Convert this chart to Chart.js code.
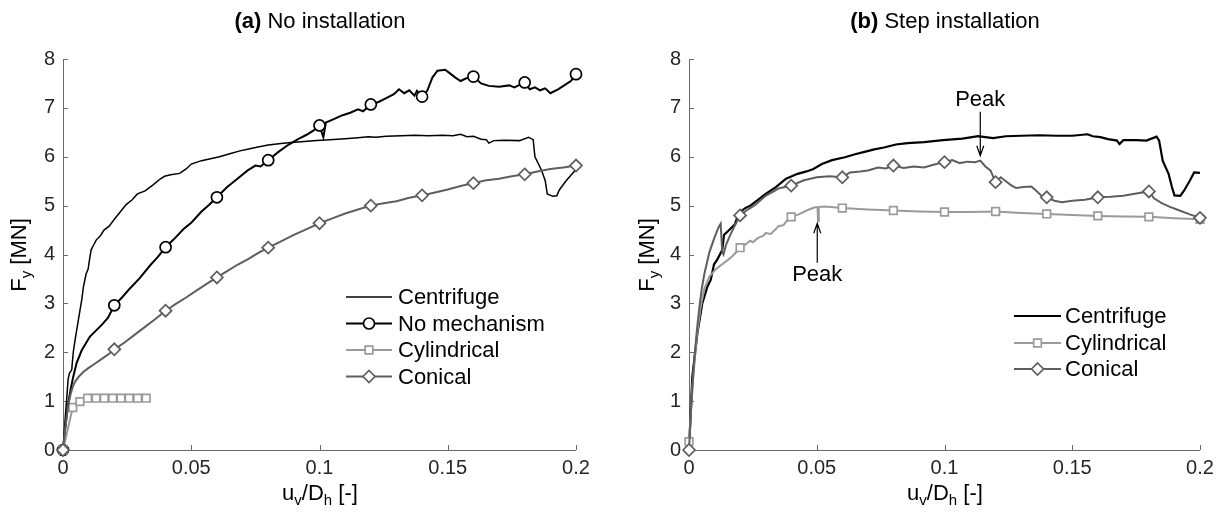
<!DOCTYPE html>
<html>
<head>
<meta charset="utf-8">
<script src="https://cdn.jsdelivr.net/npm/chart.js@4.4.0/dist/chart.umd.min.js"></script>
<style>
  body { margin: 0; background: #fff; width: 1225px; height: 516px; overflow: hidden;
         font-family: "Liberation Sans", Arial, sans-serif; color: #000; position: relative; }
  canvas { position: absolute; top: 0; }
  .title { position: absolute; top: 10px; width: 400px; text-align: center; font-size: 22px; line-height: 22px; white-space: nowrap; }
  .xlab { position: absolute; top: 481px; width: 200px; text-align: center; font-size: 22px; line-height: 24px; white-space: nowrap; }
  .ylab { position: absolute; top: 243px; width: 200px; height: 24px; text-align: center; font-size: 22px; line-height: 24px;
          transform: rotate(-90deg); white-space: nowrap; }
  sub { font-size: 15px; vertical-align: -5px; line-height: 0; }
</style>
</head>
<body>
<canvas id="chartA" width="612" height="516" style="left:0"></canvas>
<canvas id="chartB" width="613" height="516" style="left:612px"></canvas>

<div class="title" style="left:120px"><b>(a)</b> No installation</div>
<div class="title" style="left:745px"><b>(b)</b> Step installation</div>
<div class="xlab" style="left:220px">u<sub>v</sub>/D<sub>h</sub> [-]</div>
<div class="xlab" style="left:845px">u<sub>v</sub>/D<sub>h</sub> [-]</div>
<div class="ylab" style="left:-81px">F<sub>y</sub> [MN]</div>
<div class="ylab" style="left:547px">F<sub>y</sub> [MN]</div>

<script>
// tick values / labels
const xTickValues = [0, 0.05, 0.1, 0.15, 0.2];
const xTickLabels = ['0', '0.05', '0.1', '0.15', '0.2'];
const yTickValues = [0, 1, 2, 3, 4, 5, 6, 7, 8];

// x positions that carry a marker
const markX = [0, 0.02, 0.04, 0.06, 0.08, 0.1, 0.12, 0.14, 0.16, 0.18, 0.2];
const aCylMarkX = [0, 0.0038, 0.0066, 0.0096, 0.0129, 0.0161, 0.0194, 0.0226, 0.0258, 0.0291, 0.0324];

// (a) No installation
const aCentrifuge = [[0,0],[0.0008,0.6],[0.0014,1.02],[0.002,1.45],[0.0025,1.57],[0.0034,1.64],[0.004,2.0],[0.0047,2.25],
  [0.006,2.66],[0.0073,3.07],[0.008,3.35],[0.009,3.6],[0.0098,3.7],[0.0105,3.95],[0.011,4.1],[0.012,4.2],[0.013,4.3],
  [0.0145,4.38],[0.016,4.5],[0.018,4.58],[0.02,4.72],[0.022,4.85],[0.0246,5.02],[0.027,5.12],[0.029,5.24],[0.032,5.3],
  [0.035,5.42],[0.038,5.55],[0.0396,5.6],[0.042,5.63],[0.0455,5.66],[0.048,5.75],[0.05,5.85],[0.054,5.92],[0.0575,5.96],
  [0.061,6.0],[0.065,6.06],[0.069,6.12],[0.0724,6.16],[0.076,6.2],[0.08,6.24],[0.085,6.27],[0.089,6.29],[0.094,6.31],
  [0.099,6.33],[0.104,6.35],[0.11,6.37],[0.115,6.39],[0.119,6.41],[0.122,6.4],[0.126,6.42],[0.132,6.43],[0.137,6.44],
  [0.1425,6.43],[0.148,6.44],[0.152,6.43],[0.155,6.46],[0.1575,6.41],[0.16,6.42],[0.163,6.36],[0.165,6.35],[0.166,6.28],
  [0.168,6.33],[0.172,6.34],[0.178,6.33],[0.1815,6.4],[0.1833,6.35],[0.184,6.0],[0.1866,5.72],[0.188,5.51],[0.1888,5.24],
  [0.191,5.19],[0.1925,5.2],[0.1935,5.32],[0.196,5.5],[0.198,5.62],[0.2,5.74]];
const aNoMech = [[0,0],[0.001,0.5],[0.002,0.95],[0.003,1.25],[0.004,1.5],[0.0053,1.78],[0.0073,2.04],[0.0105,2.32],
  [0.0151,2.56],[0.0175,2.7],[0.02,2.96],[0.023,3.12],[0.026,3.3],[0.03,3.52],[0.034,3.78],[0.037,3.95],[0.04,4.15],
  [0.043,4.3],[0.047,4.52],[0.05,4.65],[0.054,4.88],[0.057,5.02],[0.06,5.17],[0.064,5.38],[0.068,5.55],[0.072,5.72],
  [0.075,5.82],[0.077,5.8],[0.08,5.93],[0.084,6.1],[0.088,6.25],[0.092,6.37],[0.095,6.45],[0.098,6.55],[0.1,6.64],
  [0.1015,6.4],[0.1025,6.7],[0.106,6.78],[0.109,6.85],[0.112,6.9],[0.115,6.97],[0.117,6.93],[0.12,7.07],[0.123,7.12],
  [0.126,7.2],[0.129,7.28],[0.131,7.38],[0.133,7.3],[0.135,7.36],[0.137,7.25],[0.138,7.35],[0.14,7.23],[0.142,7.35],
  [0.144,7.62],[0.146,7.76],[0.149,7.78],[0.151,7.7],[0.153,7.62],[0.155,7.55],[0.157,7.6],[0.16,7.64],[0.163,7.5],
  [0.166,7.45],[0.17,7.43],[0.174,7.46],[0.176,7.42],[0.178,7.47],[0.18,7.52],[0.182,7.38],[0.184,7.42],[0.186,7.36],
  [0.188,7.4],[0.19,7.3],[0.193,7.38],[0.196,7.48],[0.198,7.55],[0.2,7.69]];
const aCylindrical = [[0,0],[0.0038,0.87],[0.0066,0.99],[0.0096,1.06],[0.0129,1.06],[0.0161,1.06],[0.0194,1.06],
  [0.0226,1.06],[0.0258,1.06],[0.0291,1.06],[0.0324,1.06]];
const aConical = [[0,0],[0.001,0.5],[0.002,0.9],[0.003,1.15],[0.004,1.32],[0.005,1.42],[0.0065,1.52],[0.008,1.6],
  [0.01,1.68],[0.012,1.75],[0.015,1.86],[0.018,1.97],[0.02,2.06],[0.024,2.2],[0.028,2.36],[0.032,2.52],[0.036,2.68],
  [0.04,2.85],[0.044,2.99],[0.048,3.12],[0.052,3.26],[0.056,3.4],[0.06,3.53],[0.064,3.66],[0.068,3.79],[0.072,3.9],
  [0.076,4.03],[0.08,4.14],[0.085,4.27],[0.09,4.4],[0.095,4.52],[0.1,4.64],[0.105,4.74],[0.11,4.84],[0.115,4.92],
  [0.12,5.0],[0.125,5.05],[0.13,5.09],[0.135,5.16],[0.14,5.21],[0.145,5.27],[0.15,5.33],[0.155,5.4],[0.16,5.46],
  [0.165,5.52],[0.17,5.55],[0.175,5.6],[0.18,5.64],[0.185,5.7],[0.19,5.75],[0.195,5.78],[0.2,5.82]];

// (b) Step installation
const bCentrifuge = [[0,0],[0.0013,1.5],[0.0033,2.39],[0.0052,3.0],[0.0072,3.34],[0.0085,3.48],[0.0098,3.8],[0.011,3.89],
  [0.013,4.09],[0.0137,4.4],[0.0157,4.5],[0.018,4.62],[0.0195,4.85],[0.022,4.95],[0.024,5.0],[0.027,5.12],[0.03,5.24],
  [0.034,5.38],[0.038,5.55],[0.0425,5.65],[0.046,5.7],[0.0487,5.75],[0.052,5.85],[0.056,5.93],[0.061,5.99],[0.065,6.05],
  [0.0687,6.1],[0.0725,6.15],[0.0763,6.19],[0.081,6.25],[0.0856,6.28],[0.092,6.3],[0.0994,6.34],[0.107,6.37],[0.1132,6.42],
  [0.116,6.4],[0.119,6.38],[0.124,6.42],[0.13,6.43],[0.137,6.44],[0.144,6.43],[0.15,6.43],[0.156,6.46],[0.158,6.42],
  [0.161,6.4],[0.164,6.36],[0.1675,6.33],[0.1685,6.26],[0.17,6.34],[0.175,6.34],[0.179,6.33],[0.183,6.41],[0.184,6.33],
  [0.1854,5.92],[0.1877,5.65],[0.189,5.38],[0.19,5.21],[0.1923,5.2],[0.1938,5.31],[0.196,5.51],[0.1977,5.68],[0.2,5.67]];
const bCylindrical = [[0,0.17],[0.0015,1.4],[0.003,2.3],[0.0045,2.9],[0.006,3.3],[0.008,3.55],[0.0105,3.7],[0.013,3.8],
  [0.016,3.92],[0.018,4.02],[0.02,4.14],[0.022,4.2],[0.024,4.28],[0.025,4.25],[0.027,4.34],[0.029,4.38],[0.03,4.44],
  [0.032,4.42],[0.034,4.52],[0.035,4.58],[0.037,4.6],[0.038,4.67],[0.04,4.77],[0.043,4.82],[0.046,4.9],[0.049,4.96],
  [0.0503,4.97],[0.0505,4.68],[0.0508,4.97],[0.053,4.98],[0.06,4.95],[0.07,4.92],[0.08,4.9],[0.09,4.88],[0.1,4.87],
  [0.11,4.87],[0.12,4.88],[0.13,4.85],[0.14,4.83],[0.15,4.81],[0.16,4.79],[0.17,4.78],[0.18,4.77],[0.19,4.74],[0.2,4.72]];
const bConical = [[0,0],[0.001,1.0],[0.002,1.8],[0.003,2.4],[0.004,2.9],[0.005,3.3],[0.006,3.6],[0.008,4.05],[0.01,4.35],
  [0.0115,4.55],[0.0124,4.63],[0.013,4.05],[0.0135,4.0],[0.0145,4.2],[0.016,4.38],[0.018,4.6],[0.02,4.8],[0.023,4.92],
  [0.026,5.02],[0.03,5.2],[0.035,5.35],[0.04,5.41],[0.045,5.52],[0.05,5.58],[0.055,5.6],[0.06,5.58],[0.063,5.68],
  [0.067,5.7],[0.07,5.72],[0.074,5.78],[0.077,5.76],[0.08,5.82],[0.084,5.77],[0.088,5.8],[0.092,5.78],[0.096,5.84],
  [0.1,5.89],[0.103,5.93],[0.106,5.87],[0.109,5.9],[0.112,5.89],[0.114,5.92],[0.116,5.8],[0.118,5.72],[0.12,5.48],
  [0.122,5.58],[0.124,5.5],[0.126,5.42],[0.128,5.36],[0.131,5.38],[0.134,5.39],[0.136,5.3],[0.138,5.2],[0.14,5.17],
  [0.143,5.1],[0.146,5.07],[0.15,5.1],[0.155,5.12],[0.16,5.17],[0.165,5.18],[0.17,5.2],[0.175,5.25],[0.18,5.29],
  [0.182,5.15],[0.185,5.05],[0.188,4.98],[0.192,4.9],[0.196,4.82],[0.2,4.75]];

const BLACK = '#000000';
const LIGHT = '#9a9a9a';
const DARK = '#5e5e5e';
const AXIS = '#6a6a6a';
const TICKTXT = '#262626';
const FONT = '"Liberation Sans", Arial, sans-serif';

function series(label, pts, marks, color, width, style, radius, order) {
  return {
    label: label,
    data: pts.map(p => ({ x: p[0], y: p[1] })),
    borderColor: color,
    borderWidth: width,
    backgroundColor: '#fff',
    pointStyle: style || 'circle',
    pointBorderColor: color,
    pointBackgroundColor: '#fff',
    pointBorderWidth: 1.7,
    pointRadius: c => {
      const r = c.raw;
      if (!r || !style) return 0;
      return marks.some(m => Math.abs(m - r.x) < 1e-9) ? radius : 0;
    },
    pointHoverRadius: 0,
    tension: 0,
    fill: false,
    clip: false,
    order: order,
    // for the legend
    mStyle: style,
    mRadius: radius
  };
}

// axis lines and inward ticks (matlab look)
const axesPlugin = {
  id: 'axesLook',
  beforeDatasetsDraw(chart) {
    const { ctx, chartArea: a, scales: { x, y } } = chart;
    ctx.save();
    ctx.strokeStyle = AXIS;
    ctx.lineWidth = 1;
    ctx.beginPath();
    ctx.moveTo(a.left + 0.5, a.top);
    ctx.lineTo(a.left + 0.5, a.bottom + 0.5);
    ctx.lineTo(a.right, a.bottom + 0.5);
    xTickValues.forEach(v => {
      const px = Math.round(x.getPixelForValue(v)) + 0.5;
      ctx.moveTo(px, a.bottom);
      ctx.lineTo(px, a.bottom - 5);
    });
    yTickValues.forEach(v => {
      const py = Math.round(y.getPixelForValue(v)) + 0.5;
      ctx.moveTo(a.left, py);
      ctx.lineTo(a.left + 5, py);
    });
    ctx.stroke();
    ctx.restore();
  }
};

function legendPlugin(x0, x1, tx, ys) {
  return {
    id: 'lineLegend',
    afterDraw(chart) {
      const ctx = chart.ctx;
      ctx.save();
      chart.data.datasets.forEach((ds, i) => {
        const y = ys[i];
        ctx.strokeStyle = ds.borderColor;
        ctx.lineWidth = ds.borderWidth;
        ctx.beginPath();
        ctx.moveTo(x0, y);
        ctx.lineTo(x1, y);
        ctx.stroke();
        if (ds.mStyle) {
          ctx.fillStyle = '#fff';
          ctx.lineWidth = 1.7;
          Chart.helpers.drawPoint(ctx, { pointStyle: ds.mStyle, radius: ds.mRadius, rotation: 0, borderWidth: 1.7 }, (x0 + x1) / 2, y);
        }
        ctx.fillStyle = '#000';
        ctx.font = '22px ' + FONT;
        ctx.textBaseline = 'middle';
        ctx.textAlign = 'left';
        ctx.fillText(ds.label, tx, y + 1);
      });
      ctx.restore();
    }
  };
}

// "Peak" arrows on panel (b)
const peakPlugin = {
  id: 'peaks',
  afterDraw(chart) {
    const { ctx, scales: { x, y } } = chart;
    const notes = [
      { x: 0.114, text: 7.16, from: 6.92, to: 6.02 },
      { x: 0.0502, text: 3.58, from: 3.83, to: 4.64 }
    ];
    ctx.save();
    ctx.strokeStyle = '#000';
    ctx.fillStyle = '#000';
    ctx.lineWidth = 1.2;
    ctx.font = '22px ' + FONT;
    ctx.textAlign = 'center';
    ctx.textBaseline = 'middle';
    notes.forEach(n => {
      const px = x.getPixelForValue(n.x);
      const p0 = y.getPixelForValue(n.from);
      const p1 = y.getPixelForValue(n.to);
      const dir = Math.sign(p1 - p0);
      ctx.beginPath();
      ctx.moveTo(px, p0);
      ctx.lineTo(px, p1);
      ctx.moveTo(px - 3.5, p1 - dir * 10);
      ctx.lineTo(px, p1);
      ctx.lineTo(px + 3.5, p1 - dir * 10);
      ctx.stroke();
      ctx.fillText('Peak', px, y.getPixelForValue(n.text));
    });
    ctx.restore();
  }
};

function options(padRight, yWidth) {
  const tickFont = { family: FONT, size: 20 };
  return {
    responsive: false,
    animation: false,
    events: [],
    layout: { padding: { left: 0, right: padRight, top: 59, bottom: 0 } },
    plugins: { legend: { display: false }, tooltip: { enabled: false } },
    scales: {
      x: {
        type: 'linear', min: 0, max: 0.2,
        afterFit: s => { s.height = 66; },
        afterBuildTicks: s => { s.ticks = xTickValues.map(v => ({ value: v })); },
        grid: { display: false, drawTicks: false },
        border: { display: false },
        ticks: { color: TICKTXT, font: tickFont, padding: 6, maxRotation: 0, autoSkip: false,
                 callback: (v, i) => xTickLabels[i] }
      },
      y: {
        type: 'linear', min: 0, max: 8,
        afterFit: s => { s.width = yWidth; },
        afterBuildTicks: s => { s.ticks = yTickValues.map(v => ({ value: v })); },
        grid: { display: false, drawTicks: false },
        border: { display: false },
        ticks: { color: TICKTXT, font: tickFont, padding: 8, autoSkip: false,
                 callback: v => String(v) }
      }
    }
  };
}

new Chart(document.getElementById('chartA'), {
  type: 'line',
  data: {
    datasets: [
      series('Centrifuge', aCentrifuge, [], BLACK, 1.5, null, 0, 3),
      series('No mechanism', aNoMech, markX, BLACK, 2, 'circle', 5.5, 2),
      series('Cylindrical', aCylindrical, aCylMarkX, LIGHT, 2, 'rect', 5.4, 1),
      series('Conical', aConical, markX, DARK, 2, 'rectRot', 6, 0)
    ]
  },
  options: options(36, 63),
  plugins: [axesPlugin, legendPlugin(346, 392, 398, [297, 323.5, 350, 376.5])]
});

new Chart(document.getElementById('chartB'), {
  type: 'line',
  data: {
    datasets: [
      series('Centrifuge', bCentrifuge, [], BLACK, 2.2, null, 0, 2),
      series('Cylindrical', bCylindrical, markX, LIGHT, 2, 'rect', 5.4, 1),
      series('Conical', bConical, markX, DARK, 2, 'rectRot', 6, 0)
    ]
  },
  options: options(25, 77),
  plugins: [axesPlugin, legendPlugin(402, 449, 453, [316, 343, 369]), peakPlugin]
});
</script>
</body>
</html>
